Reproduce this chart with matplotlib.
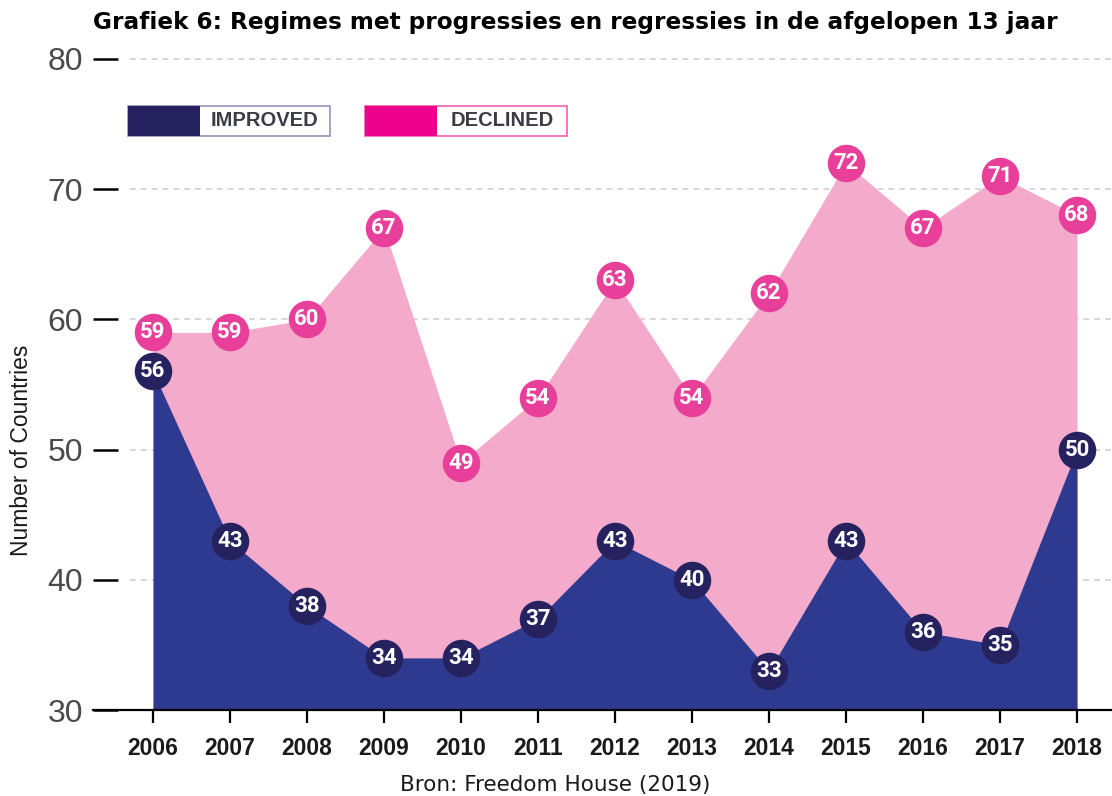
import matplotlib
matplotlib.use('Agg')
import matplotlib.pyplot as plt
from matplotlib.patches import Rectangle

years = [2006, 2007, 2008, 2009, 2010, 2011, 2012, 2013, 2014, 2015, 2016, 2017, 2018]
improved = [56, 43, 38, 34, 34, 37, 43, 40, 33, 43, 36, 35, 50]
declined = [59, 59, 60, 67, 49, 54, 63, 54, 62, 72, 67, 71, 68]
yticks = [30, 40, 50, 60, 70, 80]

W, H = 1112, 796
PINK_FILL = '#F4AACB'
PINK_DOT = '#E8409A'
BLUE_FILL = '#2E3A8F'
BLUE_DOT = '#26215F'


def px(x, y):
    # pixel (from top-left) -> figure fraction
    return x / W, 1 - y / H


fig = plt.figure(figsize=(W / 100, H / 100), dpi=100)
ax = fig.add_axes([93 / W, 86 / H, 1019 / W, 651 / H])
x_left = 2006 - 60 / 77
x_right = 2018 + 35 / 77
ax.set_xlim(x_left, x_right)
ax.set_ylim(30, 80)

# gridlines (dashed, behind areas)
ax.hlines(yticks[1:], x_left + 37 / 77, x_right, colors='#d0d0d0',
          linestyles=(0, (3.5, 3)), linewidth=1.2, zorder=0, clip_on=False)

# areas
ax.fill_between(years, 30, declined, color=PINK_FILL, lw=0, zorder=1)
ax.fill_between(years, 30, improved, color=BLUE_FILL, lw=0, zorder=2)

# markers + labels
for vals, col in [(declined, PINK_DOT), (improved, BLUE_DOT)]:
    ax.plot(years, vals, 'o', color=col, markersize=27, markeredgewidth=0,
            linestyle='none', zorder=4, clip_on=False)
    for x, v in zip(years, vals):
        ax.text(x, v, str(v), color='white', fontsize=16, fontweight='bold',
                family='Roboto', ha='center', va='center', zorder=5)

# axes styling
for s in ['top', 'right', 'left']:
    ax.spines[s].set_visible(False)
ax.spines['bottom'].set_linewidth(1.6)
ax.set_yticks(yticks)
ax.set_xticks(years)
ax.tick_params(axis='y', direction='in', length=18, width=1.8, color='black',
               pad=7, labelsize=23, labelcolor='#4a4a4a')
ax.tick_params(axis='x', direction='out', length=9.5, width=1.6, color='black',
               pad=10, labelsize=16.5)
for lab in ax.get_yticklabels():
    lab.set_family('Liberation Sans')
for lab in ax.get_xticklabels():
    lab.set_family('Liberation Sans')
    lab.set_fontweight('bold')
    lab.set_color('#1a1a1a')

# legend boxes
legend_items = [('IMPROVED', 128, BLUE_DOT, '#9990C0'),
                ('DECLINED', 365, '#EC008C', '#F060B0')]
for label, x0, fill, edge in legend_items:
    fx, fy = px(x0, 136)
    fig.add_artist(Rectangle((fx, fy), 202 / W, 30 / H, transform=fig.transFigure,
                             facecolor='white', edgecolor=edge, lw=1.2))
    fig.add_artist(Rectangle((fx, fy), 72 / W, 30 / H, transform=fig.transFigure,
                             facecolor=fill, edgecolor='none'))
    tx, ty = px(x0 + 137, 121)
    fig.text(tx, ty, label, ha='center', va='center', fontsize=14.5,
             fontweight='bold', family='Liberation Sans', color='#3a3d45')

# texts
tx, ty = px(22, 450)
fig.text(tx, ty, 'Number of Countries', rotation=90, ha='center', va='center',
         fontsize=16.5, family='Liberation Sans', color='#1a1a1a')
tx, ty = px(575, 22)
fig.text(tx, ty, 'Grafiek 6: Regimes met progressies en regressies in de afgelopen 13 jaar',
         ha='center', va='center', fontsize=16.7, fontweight='bold', family='DejaVu Sans')
tx, ty = px(555, 785)
fig.text(tx, ty, 'Bron: Freedom House (2019)', ha='center', va='center',
         fontsize=15.5, family='DejaVu Sans', color='#1a1a1a')

fig.savefig('out.png', dpi=100, facecolor='white')
